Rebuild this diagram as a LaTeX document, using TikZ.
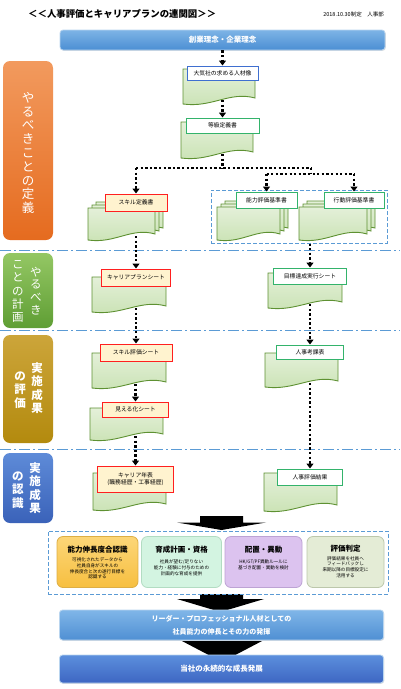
\documentclass[tikz,border=0pt]{standalone}
\usepackage{fontspec}
\setmainfont{Noto Sans CJK JP}
\usetikzlibrary{arrows.meta,shadows}
\definecolor{sepblue}{HTML}{5B9BD5}
\definecolor{docline}{HTML}{5E9132}
\definecolor{doctop}{HTML}{E4F0D9}
\definecolor{docbot}{HTML}{C9E2B3}
\definecolor{hgreen}{HTML}{33B36B}
\definecolor{hblue}{HTML}{3F6FD0}
\definecolor{hred}{HTML}{FF1F1F}
\definecolor{hyel}{HTML}{FFF3CF}
\definecolor{topA}{HTML}{7DB4E6}
\definecolor{topB}{HTML}{4B8ED3}
\definecolor{orA}{HTML}{F29A5E}
\definecolor{orB}{HTML}{E56B1F}
\definecolor{grA}{HTML}{94C764}
\definecolor{grB}{HTML}{5F9E34}
\definecolor{goA}{HTML}{CCA53A}
\definecolor{goB}{HTML}{B38A0E}
\definecolor{blA}{HTML}{5E8BD8}
\definecolor{blB}{HTML}{3A62B9}
\definecolor{b1A}{HTML}{FCD678}
\definecolor{b1B}{HTML}{F7BF40}
\definecolor{b1D}{HTML}{DDAE45}
\definecolor{b2F}{HTML}{D3F4E1}
\definecolor{b2D}{HTML}{B2DCC2}
\definecolor{b3F}{HTML}{DCC3EF}
\definecolor{b3D}{HTML}{BDA3D4}
\definecolor{b4F}{HTML}{E4ECD6}
\definecolor{b4D}{HTML}{BCC7AB}
\definecolor{r1A}{HTML}{80B6E8}
\definecolor{r1B}{HTML}{4F8FD3}
\definecolor{r2A}{HTML}{5C8FDD}
\definecolor{r2B}{HTML}{3D66C2}
\definecolor{barline}{HTML}{B9D5EF}
% doc shape: name, x1, y1, x2, y2
\newcommand{\docsh}[5]{%
  \draw[docst] (#2,#3) -- (#4,#3) -- (#4,{#5-6}) .. controls ({#4-0.35*(#4-#2)},{#5-13}) and ({#2+0.4*(#4-#2)},{#5+4}) .. (#2,{#5}) -- cycle;
  \coordinate (#1) at ({(#2+#4)/2},{#5-4});}
\newcommand{\stackdoc}[5]{%
  \docsh{#1b2}{#2+8}{#3-6}{#4+8}{#5-6}%
  \docsh{#1b1}{#2+4}{#3-3}{#4+4}{#5-3}%
  \docsh{#1}{#2}{#3}{#4}{#5}}
\begin{document}
\begin{tikzpicture}[x=1pt,y=-1pt,
 hdr/.style={draw, line width=1pt, fill=white, inner sep=0pt, font=\fontsize{5.8}{6.8}\selectfont, align=center},
 hg/.style={hdr, draw=hgreen},
 hb/.style={hdr, draw=hblue},
 hr/.style={hdr, draw=hred, fill=hyel},
 docst/.style={draw=docline, line width=0.9pt, top color=doctop, bottom color=docbot},
 conn/.style={line width=2.3pt, dash pattern=on 2.3pt off 2.3pt, -{Triangle[width=7pt,length=5pt]}},
 cline/.style={line width=2.3pt, dash pattern=on 2.3pt off 2.3pt},
 sep/.style={draw=sepblue, line width=1pt, dash pattern=on 11pt off 3pt on 2pt off 3pt},
 grp/.style={draw=sepblue, line width=1pt, dash pattern=on 4pt off 2pt, inner sep=0pt},
 side/.style={rounded corners=7pt, inner sep=0pt, minimum width=50pt},
 vt/.style={text=white, align=center, inner sep=0pt},
 bar/.style={rounded corners=3pt, inner sep=0pt, minimum width=324pt, draw=barline, line width=0.8pt, text=white, align=center, drop shadow={opacity=0.25, shadow xshift=0.8pt, shadow yshift=-0.8pt}},
 bbox/.style={rounded corners=6pt, inner sep=0pt, line width=0.8pt},
 btitle/.style={font=\fontsize{7.5}{8}\selectfont\bfseries, inner sep=0pt},
 bbody/.style={font=\fontsize{4.6}{5.8}\selectfont, align=center, inner sep=0pt},
 bigarrow/.style={fill=black}
]
\useasboundingbox (0,0) rectangle (400,689);

% title
\node[font=\fontsize{9.4}{10}\selectfont\bfseries, anchor=west, inner sep=0pt] (title) at (28,13.5) {＜＜人事評価とキャリアプランの連関図＞＞};
\node[font=\fontsize{5.5}{6}\selectfont, anchor=east, inner sep=0pt] (date) at (384,14.5) {2018.10.30制定　人事部};

% top bar
\node[bar, top color=topA, bottom color=topB, minimum width=325pt, minimum height=20pt, font=\fontsize{7.5}{8}\selectfont\bfseries] (top) at (222.5,40) {創業理念・企業理念};

% separators
\draw[sep] (0,250) -- (400,250);
\draw[sep] (0,330) -- (400,330);
\draw[sep] (0,449) -- (400,449);

% side boxes
\node[side, top color=orA, bottom color=orB, minimum height=179pt] (ob) at (28,150.5) {};
\node[vt, font=\fontsize{12.5}{13.8}\selectfont] (ot) at (28,153) {や\\る\\べ\\き\\こ\\と\\の\\定\\義};
\node[side, top color=grA, bottom color=grB, minimum height=75pt] (gb) at (28,290.5) {};
\node[vt, font=\fontsize{11.5}{12.8}\selectfont] (gt1) at (36,291) {や\\る\\べ\\き};
\node[vt, font=\fontsize{11.5}{13.2}\selectfont] (gt2) at (18,291.5) {こ\\と\\の\\計\\画};
\node[side, top color=goA, bottom color=goB, minimum height=108pt] (yb) at (28,389) {};
\node[vt, font=\fontsize{11.5}{13.3}\selectfont\bfseries] (yt1) at (37,388) {実\\施\\成\\果};
\node[vt, font=\fontsize{11.5}{13.3}\selectfont\bfseries] (yt2) at (20,390) {の\\評\\価};
\node[side, top color=blA, bottom color=blB, minimum height=70pt] (bb) at (28,488) {};
\node[vt, font=\fontsize{11.5}{13.3}\selectfont\bfseries] (bt1) at (35,488) {実\\施\\成\\果};
\node[vt, font=\fontsize{11.5}{13.3}\selectfont\bfseries] (bt2) at (18,490) {の\\認\\識};

% group box 1
\node[grp, minimum width=176pt, minimum height=53pt] (g1) at (299,216.5) {};

% documents
\docsh{tjd}{183}{69}{255}{104}
\docsh{tkd}{181}{122}{253}{158}
\stackdoc{skd}{88}{208}{155}{240}
\stackdoc{nrd}{217}{207}{280}{240}
\stackdoc{kdd}{299}{207}{367}{240}
\docsh{kpd}{92}{277}{166}{312}
\docsh{mkd}{268}{273}{342}{308}
\docsh{sed}{92}{353}{166}{388}
\docsh{kkd}{265}{353}{338}{387}
\docsh{mid}{90}{408}{163}{440}
\docsh{cad}{93}{473}{166}{510}
\docsh{hkd}{264}{473}{337}{511}

% headers
\node[hb, minimum width=71pt, minimum height=14pt] (tj) at (222.5,73) {大気社の求める人材像};
\node[hg, minimum width=73pt, minimum height=15pt] (tk) at (222.5,125.5) {等級定義書};
\node[hg, minimum width=61pt, minimum height=16pt] (nr) at (266.5,200) {能力評価基準書};
\node[hg, minimum width=60pt, minimum height=16pt] (kd) at (354,200) {行動評価基準書};
\node[hr, minimum width=62pt, minimum height=17pt] (sk) at (136,202.5) {スキル定義書};
\node[hr, minimum width=69pt, minimum height=17pt] (kp) at (136,277.5) {キャリアプランシート};
\node[hg, minimum width=73pt, minimum height=16pt] (mk) at (310,276) {目標達成実行シート};
\node[hr, minimum width=72pt, minimum height=17pt] (se) at (136,352.5) {スキル評価シート};
\node[hg, minimum width=67pt, minimum height=14pt] (kk) at (310,352) {人事考課表};
\node[hr, minimum width=66pt, minimum height=15pt] (mi) at (135.5,409.5) {見える化シート};
\node[hr, minimum width=76pt, minimum height=26pt] (ca) at (135.5,479) {キャリア年表\\(職務経歴・工事経歴)};
\node[hg, minimum width=65pt, minimum height=16pt] (hk) at (310,477) {人事評価結果};

% connectors
\coordinate (j1) at (222.5,168);
\coordinate (jl) at (136,168);
\coordinate (jr) at (311,168);
\coordinate (jr2) at (311,174);
\coordinate (jn) at (266.5,174);
\coordinate (jk) at (354,174);
\draw[conn] (tj.north |- top.south) -- (tj.north);
\draw[conn] (tk.north |- tjd) -- (tk.north);
\draw[cline] (tk |- tkd) -- (j1);
\draw[cline] (jl) -- (jr);
\draw[conn] (jl) -- (sk.north);
\draw[cline] (jr) -- (jr2);
\draw[cline] (jn) -- (jk);
\draw[conn] (jn) -- (nr.north);
\draw[conn] (jk) -- (kd.north);
\draw[conn] (kp.north |- skd) -- (kp.north);
\draw[conn] (se.north |- kpd) -- (se.north);
\draw[conn] (mi.north |- sed) -- (mi.north);
\draw[conn] (ca.north |- mid) -- (ca.north);
\draw[conn] (mk.north |- g1.south) -- (mk.north);
\draw[conn] (kk.north |- mkd) -- (kk.north);
\draw[conn] (hk.north |- kkd) -- (hk.north);

% big arrows (flat block arrows)
\fill[bigarrow] (200,516) -- (243,516) -- (243,522.5) -- (266,522.5) -- (221.5,530) -- (177,522.5) -- (200,522.5) -- cycle;
\fill[bigarrow] (200,594) -- (243,594) -- (243,599) -- (264,599) -- (220.5,612) -- (177,599) -- (200,599) -- cycle;
\fill[bigarrow] (182,641) -- (262,641) -- (222,662) -- cycle;

% bottom group
\node[grp, fill=white, minimum width=340pt, minimum height=63pt] (g2) at (218,562.5) {};
\node[bbox, top color=b1A, bottom color=b1B, draw=b1D, minimum width=81pt, minimum height=51pt] (b1) at (97.5,562) {};
\node[btitle] (b1t) at (97.5,550) {能力伸長度合認識};
\node[bbody] (b1b) at (97.5,568.5) {可視化されたデータから\\社員自身がスキルの\\伸長度合と次の遂行目標を\\認識する};
\node[bbox, fill=b2F, draw=b2D, minimum width=80pt, minimum height=51pt] (b2) at (181.5,562) {};
\node[btitle] (b2t) at (181.5,550) {育成計画・資格};
\node[bbody] (b2b) at (181.5,568) {社員が望む/足りない\\能力・経験に付与のための\\計画的な育成を提供};
\node[bbox, fill=b3F, draw=b3D, minimum width=77pt, minimum height=51pt] (b3) at (263.5,562) {};
\node[btitle] (b3t) at (263.5,550) {配置・異動};
\node[bbody] (b3b) at (263.5,565) {HK/GT/PF異動ルールに\\基づき配置・異動を検討};
\node[bbox, fill=b4F, draw=b4D, minimum width=77pt, minimum height=51pt] (b4) at (345.5,562) {};
\node[btitle] (b4t) at (345.5,548.5) {評価判定};
\node[bbody] (b4b) at (345.5,567) {評価結果を社員へ\\フィードバックし\\来期以降の目標設定に\\活用する};

% bottom bars
\node[bar, top color=r1A, bottom color=r1B, minimum height=30pt, font=\fontsize{7}{13}\selectfont\bfseries] (bar1) at (221.5,625) {リーダー・プロフェッショナル人材としての\\社員能力の伸長とその力の発揮};
\node[bar, top color=r2A, bottom color=r2B, minimum height=28pt, font=\fontsize{7.5}{8}\selectfont\bfseries] (bar2) at (221.5,669) {当社の永続的な成長発展};
\end{tikzpicture}
\end{document}
